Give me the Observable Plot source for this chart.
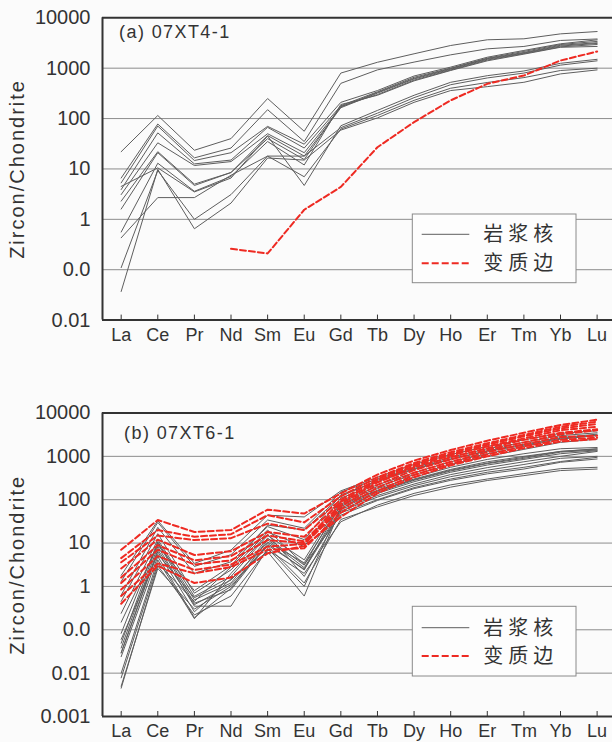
<!DOCTYPE html>
<html><head><meta charset="utf-8">
<script src="https://cdn.jsdelivr.net/npm/d3@7"></script>
<script src="https://cdn.jsdelivr.net/npm/@observablehq/plot@0.6"></script>
<style>
html,body{margin:0;padding:0;background:#fbfbfb;}
#chart{width:612px;height:742px;overflow:hidden;position:relative;}
#chart svg{display:block;}
</style></head><body><div id="chart"></div>
<script>
const elements = ["La","Ce","Pr","Nd","Sm","Eu","Gd","Tb","Dy","Ho","Er","Tm","Yb","Lu"];
const ticksA = [0.01, 0.1, 1, 10, 100, 1000, 10000];
const tickLabelsA = ["0.01", "0.0", "1", "10", "100", "1000", "10000"];
const ticksB = [0.001, 0.01, 0.1, 1, 10, 100, 1000, 10000];
const tickLabelsB = ["0.001", "0.01", "0.0", "1", "10", "100", "1000", "10000"];
const titleA = "(a) 07XT4-1";
const titleB = "(b) 07XT6-1";
const yTitle = "Zircon/Chondrite";
const legendLabels = ["岩浆核", "变质边"];

// panel (a) magmatic cores (gray)
const coreA = [
  [22, 115, 23.5, 40, 250, 56, 800, 1310, 1930, 2820, 3660, 3830, 4800, 5340],
  [6.6, 78, 16.6, 26, 150, 35, 500, 925, 1320, 1840, 2420, 2700, 3550, 3800],
  [5.3, 71, 14.7, 21, 70, 31, 210, 360, 700, 1050, 1650, 2250, 3050, 3650],
  [3.9, 52, 12.6, 15, 67, 26, 180, 340, 660, 1000, 1580, 2150, 2950, 3400],
  [3.1, 33, 11.7, 14, 50, 21, 170, 330, 630, 980, 1550, 2050, 2850, 3200],
  [2.3, 22, 5, 8.5, 46, 18, 164, 320, 610, 950, 1500, 2000, 2750, 3100],
  [1.6, 21, 4.7, 8.5, 40, 15.4, 175, 300, 580, 920, 1450, 1950, 2650, 2950],
  [0.56, 13, 3.6, 7.1, 35, 12, 190, 290, 560, 900, 1400, 1900, 2600, 2700],
  [4.5, 10.5, 3.5, 6.6, 45, 4.7, 72, 145, 290, 525, 710, 880, 1250, 1500],
  [0.43, 2.7, 2.7, 7.5, 18, 18, 66, 128, 260, 470, 640, 800, 1150, 1400],
  [0.11, 9.3, 1.0, 3.1, 18, 7, 62, 115, 230, 400, 520, 650, 900, 1000],
  [0.037, 9.8, 0.65, 2.1, 16.5, 15, 59, 103, 210, 360, 430, 525, 770, 925]
];
// panel (a) metamorphic rim (red dashed)
const rimA = [
  [null, null, null, 0.26, 0.21, 1.55, 4.4, 27, 85, 230, 490, 715, 1420, 2140]
];
// panel (b) magmatic cores (gray)
const coreB = [
  [1.8, 33, 3.4, 6.9, 44, 40, 160, 330, 650, 1100, 1700, 2400, 3400, 3900],
  [1.3, 30, 2.9, 5.4, 34, 22, 150, 300, 560, 950, 1500, 2100, 3000, 3500],
  [0.63, 23, 2.0, 3.7, 24, 12, 130, 260, 500, 850, 1350, 1900, 2700, 3250],
  [0.45, 16.5, 0.7, 2.4, 18, 8.3, 110, 220, 420, 750, 1150, 1700, 2500, 3000],
  [0.24, 12, 0.59, 1.7, 15, 4.1, 95, 200, 380, 650, 1000, 1450, 2100, 2500],
  [0.083, 10.7, 0.49, 1.2, 13, 3.1, 90, 180, 330, 560, 850, 1150, 1500, 1600],
  [0.049, 10, 0.41, 0.84, 9.8, 2.4, 80, 165, 300, 500, 750, 1000, 1300, 1470],
  [0.038, 8.3, 0.35, 0.35, 7.5, 1.0, 70, 150, 280, 460, 680, 900, 1250, 1400],
  [0.029, 6.3, 0.26, 1.5, 6.3, 0.6, 65, 140, 260, 430, 630, 850, 1150, 1350],
  [0.024, 4.9, 0.19, 0.9, 12, 2.7, 60, 125, 230, 380, 550, 750, 1000, 1300],
  [0.01, 4.1, 0.18, 2.0, 16, 1.7, 50, 100, 190, 300, 430, 560, 760, 950],
  [0.0078, 3.4, 0.45, 2.8, 20, 3.2, 44, 96, 180, 280, 395, 510, 730, 870],
  [0.005, 2.6, 0.3, 1.0, 8.5, 1.2, 35, 68, 125, 195, 277, 360, 470, 510],
  [0.0045, 3.0, 0.22, 0.6, 7, 2.0, 31, 75, 140, 220, 300, 400, 520, 560],
  [0.15, 9, 0.8, 3.0, 26, 20, 120, 280, 520, 880, 1300, 1800, 2600, 3100],
  [0.06, 5.5, 0.55, 1.4, 10.5, 3.5, 75, 160, 290, 480, 700, 950, 1300, 1500],
  [0.03, 7, 0.38, 1.1, 9, 2.5, 55, 115, 210, 340, 480, 650, 900, 1000]
];
// panel (b) metamorphic rims (red dashed)
const rimB = [
  [7.0, 34, 18, 20, 59, 48, 140, 380, 800, 1400, 2300, 3500, 5300, 7000],
  [4.5, 20, 14, 16, 44, 30, 120, 330, 700, 1250, 2000, 3100, 4800, 6300],
  [3.6, 15, 11.7, 13, 28, 20, 100, 300, 650, 1150, 1850, 2900, 4400, 5600],
  [2.6, 12, 5.3, 6.5, 18, 14, 90, 270, 600, 1050, 1700, 2600, 4000, 4800],
  [1.6, 9, 4.0, 5.0, 15, 11, 80, 250, 550, 950, 1550, 2400, 3500, 4200],
  [1.2, 7, 3.2, 4.0, 11.7, 10, 70, 220, 480, 850, 1400, 2100, 3200, 4000],
  [0.85, 5, 2.4, 3.2, 8.3, 9.5, 60, 190, 420, 750, 1250, 1900, 2800, 3000],
  [0.6, 3.4, 2.0, 2.8, 7, 7.6, 50, 160, 370, 680, 1100, 1700, 2400, 2700],
  [0.4, 3.0, 1.2, 1.6, 5.8, 8.5, 40, 140, 330, 620, 1000, 1550, 2200, 2500]
];

const FONT = "'Liberation Sans', Arial, Helvetica, sans-serif";
const CJK = "'Noto Sans CJK SC', 'Noto Sans', sans-serif";
const RED = "#ee2a22";
const GRAY = "#5e5e5e";
const INK = "#333";

function rows(arr, tag) {
  return arr.flatMap((s, k) => s.map((v, i) => ({k: tag + k, i, v}))).filter(d => d.v != null);
}

function panel(o) {
  const plotH = o.height - o.mt - o.mb;
  const xDom = [-0.51, 13.42];
  const idx = d3.range(elements.length);
  const svg = Plot.plot({
    width: 612, height: o.height,
    marginLeft: 102, marginRight: 0, marginTop: o.mt, marginBottom: o.mb,
    style: {background: "transparent", fontFamily: FONT, color: INK, overflow: "visible"},
    x: {type: "linear", domain: xDom},
    y: {type: "log", domain: [o.ticks[0], o.ticks[o.ticks.length - 1]]},
    marks: [
      Plot.ruleY(o.ticks.slice(1, -1), {stroke: "#8c8c8c", strokeWidth: 1}),
      Plot.line(rows(o.core, "c"), {x: "i", y: "v", z: "k", stroke: GRAY, strokeWidth: 1}),
      Plot.line(rows(o.rim, "r"), {x: "i", y: "v", z: "k", stroke: RED, strokeWidth: 2, strokeDasharray: "6,3"}),
      Plot.ruleX(idx, {x: d => d, insetTop: plotH - 5, stroke: INK, strokeWidth: 1}),
      Plot.ruleY([o.ticks[0], o.ticks[o.ticks.length - 1]], {stroke: INK, strokeWidth: 2}),
      Plot.ruleX([xDom[0]], {stroke: INK, strokeWidth: 2}),
      Plot.axisX({ticks: idx, tickFormat: i => elements[i], tickSize: 0, tickPadding: 8, fontSize: 18, label: null}),
      Plot.axisY({ticks: o.ticks, tickFormat: d => o.labels[o.ticks.indexOf(d)], tickSize: 0, tickPadding: 12, fontSize: 20, label: null}),
      Plot.text([yTitle], {frameAnchor: "left", dx: -85, rotate: -90, textAnchor: "middle", fontSize: 20, fill: INK}),
      Plot.text([o.title], {frameAnchor: "top-left", dx: o.tdx, dy: o.tdy, textAnchor: "start", lineAnchor: "middle", fontSize: 18, fill: INK})
    ]
  });
  const s = d3.select(svg);
  s.selectAll("text").filter(function() { return this.textContent === yTitle; }).attr("letter-spacing", "2px");
  s.selectAll("text").filter(function() { return this.textContent === o.title; }).attr("letter-spacing", "1.4px");
  // legend
  const g = s.append("g");
  const L = o.legend;
  g.append("rect").attr("x", 412.3).attr("y", L.top).attr("width", 163.7).attr("height", L.h)
    .attr("fill", "#fdfdfd").attr("stroke", "#8a8a8a").attr("stroke-width", 1);
  g.append("line").attr("x1", 421.7).attr("x2", 469.3).attr("y1", L.r1).attr("y2", L.r1)
    .attr("stroke", GRAY).attr("stroke-width", 1);
  g.append("line").attr("x1", 421.7).attr("x2", 469.3).attr("y1", L.r2).attr("y2", L.r2)
    .attr("stroke", RED).attr("stroke-width", 2).attr("stroke-dasharray", "7,3");
  legendLabels.forEach((t, j) => {
    g.append("text").attr("x", 483.3).attr("y", j ? L.r2 : L.r1).attr("dy", "0.35em")
      .attr("text-anchor", "start")
      .attr("font-family", CJK).attr("font-size", 20).attr("letter-spacing", "5px")
      .attr("fill", INK).text(t);
  });
  return svg;
}

const chart = document.getElementById("chart");
chart.append(panel({
  core: coreA, rim: rimA, ticks: ticksA, labels: tickLabelsA, title: titleA,
  height: 370, mt: 17.3, mb: 50.4, tdx: 16.6, tdy: 14,
  legend: {top: 214, h: 68.7, r1: 234.3, r2: 263.3}
}));
chart.append(panel({
  core: coreB, rim: rimB, ticks: ticksB, labels: tickLabelsB, title: titleB,
  height: 372, mt: 42.5, mb: 26, tdx: 21.6, tdy: 20.5,
  legend: {top: 236.3, h: 69.7, r1: 257.7, r2: 286}
}));
</script></body></html>
